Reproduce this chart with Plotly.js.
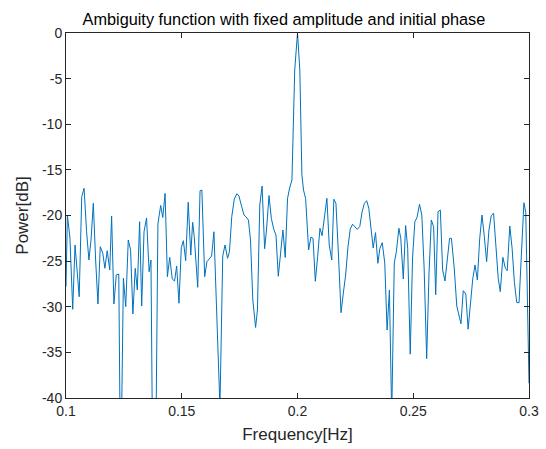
<!DOCTYPE html>
<html>
<head>
<meta charset="utf-8">
<script src="https://cdn.plot.ly/plotly-3.0.1.min.js"></script>
<style>html,body{margin:0;padding:0;background:#fff;}#chart{width:546px;height:449px;}</style>
</head>
<body>
<div id="chart"></div>
<script>
// Frequency (Hz) of each traced vertex
const freqHz = [
0.1000,0.1006,0.1017,0.1029,0.1039,0.1049,0.1057,0.1068,0.1078,0.1089,
0.1099,0.1108,0.1118,0.1128,0.1138,0.1148,0.1159,0.1168,0.1178,0.1189,
0.1197,0.1207,0.1217,0.1228,0.1236,0.1248,0.1258,0.1269,0.1279,0.1289,
0.1299,0.1308,0.1318,0.1327,0.1337,0.1348,0.1359,0.1367,0.1376,0.1387,
0.1397,0.1409,0.1418,0.1428,0.1438,0.1448,0.1459,0.1469,0.1478,0.1488,
0.1498,0.1507,0.1517,0.1528,0.1539,0.1547,0.1554,0.1569,0.1579,0.1587,
0.1599,0.1609,0.1619,0.1629,0.1639,0.1649,0.1659,0.1665,0.1677,0.1687,
0.1698,0.1706,0.1716,0.1727,0.1738,0.1747,0.1759,0.1769,0.1778,0.1788,
0.1797,0.1807,0.1819,0.1827,0.1837,0.1847,0.1858,0.1866,0.1877,0.1887,
0.1897,0.1907,0.1917,0.1927,0.1937,0.1947,0.1957,0.1966,0.1976,0.1988,
0.2000,0.2010,0.2019,0.2026,0.2035,0.2048,0.2058,0.2067,0.2077,0.2087,
0.2097,0.2106,0.2117,0.2127,0.2137,0.2148,0.2157,0.2166,0.2177,0.2188,
0.2198,0.2208,0.2218,0.2228,0.2238,0.2248,0.2258,0.2269,0.2279,0.2289,
0.2299,0.2308,0.2318,0.2327,0.2337,0.2347,0.2356,0.2366,0.2377,0.2387,
0.2397,0.2407,0.2418,0.2427,0.2438,0.2446,0.2457,0.2467,0.2476,0.2487,
0.2497,0.2507,0.2516,0.2527,0.2537,0.2547,0.2558,0.2568,0.2578,0.2588,
0.2597,0.2607,0.2617,0.2627,0.2637,0.2646,0.2657,0.2665,0.2677,0.2688,
0.2698,0.2706,0.2716,0.2727,0.2737,0.2747,0.2757,0.2767,0.2777,0.2787,
0.2797,0.2807,0.2817,0.2827,0.2837,0.2847,0.2857,0.2867,0.2876,0.2887,
0.2898,0.2906,0.2917,0.2927,0.2937,0.2947,0.2957,0.2967,0.2978,0.2986,
0.3000
];
// Power (dB) at each vertex
const powerDb = [
-27.80,-19.95,-22.47,-30.28,-23.23,-26.16,-28.90,-17.94,-17.02,-21.78,
-24.88,-22.68,-18.66,-24.88,-29.70,-23.42,-24.14,-25.79,-23.86,-25.97,
-20.05,-29.70,-26.52,-26.41,-50.00,-26.88,-29.99,-22.68,-23.78,-30.79,
-25.79,-28.16,-20.68,-29.92,-21.78,-20.27,-26.16,-24.88,-52.00,-48.00,
-20.93,-18.90,-20.22,-17.57,-26.71,-24.58,-26.96,-27.18,-25.53,-29.62,
-23.53,-22.76,-24.95,-18.55,-24.33,-20.75,-22.32,-27.87,-17.28,-17.21,
-26.71,-25.06,-24.80,-24.44,-21.78,-30.36,-36.93,-41.00,-24.44,-23.23,
-24.69,-23.97,-20.13,-18.19,-17.61,-17.86,-19.04,-19.95,-20.16,-20.49,
-22.68,-29.26,-32.27,-30.36,-18.85,-16.77,-23.64,-21.59,-17.81,-20.31,
-21.48,-22.14,-26.66,-24.33,-21.59,-24.60,-18.12,-16.99,-16.11,-4.05,
0.00,-4.05,-15.56,-17.21,-18.12,-23.78,-22.36,-22.50,-27.21,-24.52,
-21.40,-22.21,-19.73,-18.12,-23.23,-24.88,-18.22,-18.66,-24.33,-30.65,
-28.49,-26.52,-23.42,-21.48,-20.96,-21.23,-21.53,-21.21,-19.62,-18.66,
-18.38,-19.21,-21.48,-23.56,-21.88,-25.24,-23.59,-22.98,-25.21,-32.55,
-28.16,-42.00,-25.21,-23.97,-21.40,-22.50,-26.96,-21.10,-23.59,-35.20,
-24.66,-20.68,-20.24,-18.77,-19.95,-25.75,-35.69,-26.41,-20.49,-21.23,
-28.68,-19.58,-19.40,-25.97,-27.18,-25.21,-22.50,-22.50,-25.75,-29.92,
-30.90,-31.86,-28.24,-28.60,-32.46,-29.45,-26.94,-25.42,-27.07,-22.54,
-19.95,-22.32,-25.06,-21.59,-20.00,-19.76,-23.23,-26.88,-28.35,-24.58,
-25.79,-26.05,-21.15,-23.59,-27.34,-29.53,-29.56,-24.33,-18.60,-19.64,
-38.39
];
const xTickVals = [0.1, 0.15, 0.2, 0.25, 0.3];
const xTickText = ["0.1", "0.15", "0.2", "0.25", "0.3"];
const yTickVals = [-40, -35, -30, -25, -20, -15, -10, -5, 0];
const yTickText = ["-40", "-35", "-30", "-25", "-20", "-15", "-10", "-5", "0"];

const FONT = 'Liberation Sans, Arial, sans-serif';
const axisCommon = {
  showgrid: false, zeroline: false, showline: true, linecolor: '#262626', linewidth: 1,
  mirror: 'ticks', ticks: 'inside', ticklen: 5, tickcolor: '#262626', tickwidth: 1,
  tickfont: {family: FONT, size: 14, color: '#262626'}
};

Plotly.newPlot('chart', [{
  x: freqHz, y: powerDb, type: 'scatter', mode: 'lines',
  line: {color: '#0072BD', width: 1}, hoverinfo: 'skip'
}], {
  width: 546, height: 449,
  margin: {l: 66, r: 17, t: 33, b: 51},
  paper_bgcolor: '#ffffff', plot_bgcolor: '#ffffff',
  showlegend: false,
  title: {text: 'Ambiguity function with fixed amplitude and initial phase',
    font: {family: FONT, size: 16.3, color: '#000000'},
    x: 0.52, xanchor: 'center', y: 0.957, yanchor: 'middle', yref: 'container'},
  xaxis: Object.assign({}, axisCommon, {
    range: [0.1, 0.3], tickmode: 'array', tickvals: xTickVals, ticktext: xTickText,
    title: {text: 'Frequency[Hz]', font: {family: FONT, size: 17, color: '#262626'}, standoff: 10}
  }),
  yaxis: Object.assign({}, axisCommon, {
    range: [-40, 0], tickmode: 'array', tickvals: yTickVals, ticktext: yTickText,
    title: {text: 'Power[dB]', font: {family: FONT, size: 17, color: '#262626'}, standoff: 9}
  })
}, {displayModeBar: false, staticPlot: true});
</script>
</body>
</html>
